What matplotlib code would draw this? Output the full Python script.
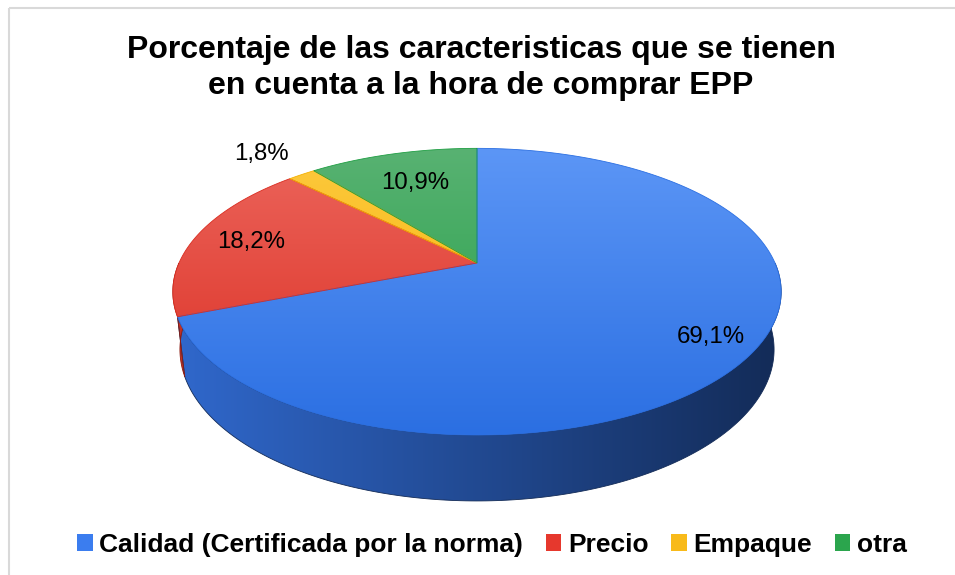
import numpy as np
import matplotlib.pyplot as plt
from matplotlib.patches import Polygon, Patch, Rectangle
from matplotlib.colors import LinearSegmentedColormap

plt.rcParams['font.family'] = ['Liberation Sans', 'DejaVu Sans']

categorias = ['Calidad (Certificada por la norma)', 'Precio', 'Empaque', 'otra']
porcentajes = [69.1, 18.2, 1.8, 10.9]
etiquetas = ['69,1%', '18,2%', '1,8%', '10,9%']

# colores: cara superior (arriba, abajo), lateral (izq, der), leyenda
color_sup = [('#5C96F6', '#2B6FE2'), ('#EC655C', '#DA2C20'),
             ('#FDC93E', '#F4B100'), ('#58B272', '#1F9E43')]
color_lat = [('#3068CC', '#132B57'), ('#C33125', '#8A1D14'),
             ('#D79A00', '#A87500'), ('#1C8A3A', '#11602A')]
color_ley = ['#3B7DEF', '#E6382D', '#F8BA1A', '#2BA54D']

# geometria del pastel 3D (en pixeles de la figura)
cx, cy, R = 477, 263, 298
elev = np.radians(27.5)
dist = 4.43
grosor = 0.22
radio_etiqueta = [0.86, 0.8, 1.27, 0.7]

fig = plt.figure(figsize=(9.55, 5.75), dpi=100)
ax = fig.add_axes([0, 0, 1, 1])


def proyectar(theta, r=1.0, z=0.0):
    X = r * np.cos(theta)
    Y = r * np.sin(theta)
    v = Y * np.sin(elev) + z * np.cos(elev)
    w = -Y * np.cos(elev) + z * np.sin(elev)
    s = dist / (dist - w)
    return cx + X * s * R, cy - v * s * R


def relleno(xy, c1, c2, extent, vertical=True, z=2):
    patch = Polygon(xy, closed=True, fc='none', ec=c2, lw=0.6, zorder=z + 0.1)
    ax.add_patch(patch)
    cmap = LinearSegmentedColormap.from_list('g', [c1, c2])
    grad = np.linspace(0, 1, 256)
    img = grad.reshape(-1, 1) if vertical else grad.reshape(1, -1)
    im = ax.imshow(img, cmap=cmap, extent=extent, aspect='auto',
                   interpolation='bicubic', zorder=z)
    im.set_clip_path(patch)


total = sum(porcentajes)
limites = 90 - np.concatenate([[0], np.cumsum(porcentajes)]) / total * 360

# extension de toda la tarta para los degradados
t_all = np.radians(np.linspace(0, 360, 721))
xs_all, ys_all = proyectar(t_all)
xb_all, yb_all = proyectar(t_all, z=-grosor)
x_min, x_max = xs_all.min(), xs_all.max()
y_top, y_bot = ys_all.min(), ys_all.max()
y_low = yb_all.max()

# paredes laterales (solo la mitad delantera)
for i in range(len(porcentajes)):
    a0, a1 = limites[i], limites[i + 1]
    for k in (-1, 0, 1):
        lo = max(a1, -180 + 360 * k)
        hi = min(a0, 360 * k)
        if hi <= lo:
            continue
        t = np.radians(np.linspace(lo, hi, 200))
        xt, yt = proyectar(t)
        xb, yb = proyectar(t, z=-grosor)
        xy = np.column_stack([np.concatenate([xt, xb[::-1]]),
                              np.concatenate([yt, yb[::-1]])])
        relleno(xy, color_lat[i][0], color_lat[i][1],
                (x_min, x_max, y_low, y_top), vertical=False, z=2)

# caras superiores
for i in range(len(porcentajes)):
    a0, a1 = limites[i], limites[i + 1]
    t = np.radians(np.linspace(a0, a1, 300))
    xt, yt = proyectar(t)
    xy = np.column_stack([np.concatenate([[cx], xt]), np.concatenate([[cy], yt])])
    relleno(xy, color_sup[i][0], color_sup[i][1],
            (x_min, x_max, y_bot, y_top), vertical=True, z=3)

# etiquetas de datos
for i, txt in enumerate(etiquetas):
    medio = np.radians((limites[i] + limites[i + 1]) / 2)
    lx, ly = proyectar(medio, r=radio_etiqueta[i])
    ax.text(lx, ly, txt, ha='center', va='center', fontsize=17.3, color='black', zorder=5)

# titulo
ax.text(481, 68, 'Porcentaje de las caracteristicas que se tienen\nen cuenta a la hora de comprar EPP',
        ha='center', va='center', fontsize=23, fontweight='bold', linespacing=1.25, zorder=5)

# marco
ax.add_patch(Rectangle((8.5, 7.5), 980, 600, fill=False, ec='#D9D9D9', lw=1.5, zorder=1))

ax.set_xlim(0, 955)
ax.set_ylim(575, 0)
ax.axis('off')

handles = [Patch(facecolor=c, edgecolor='none') for c in color_ley]
fig.legend(handles, categorias, loc='center', bbox_to_anchor=(0.515, 0.052), ncol=4,
           frameon=False, prop={'size': 19, 'weight': 'bold'},
           handlelength=0.6, handleheight=0.6, handletextpad=0.25, columnspacing=0.85)

fig.savefig('out.png', dpi=100, facecolor='white')
